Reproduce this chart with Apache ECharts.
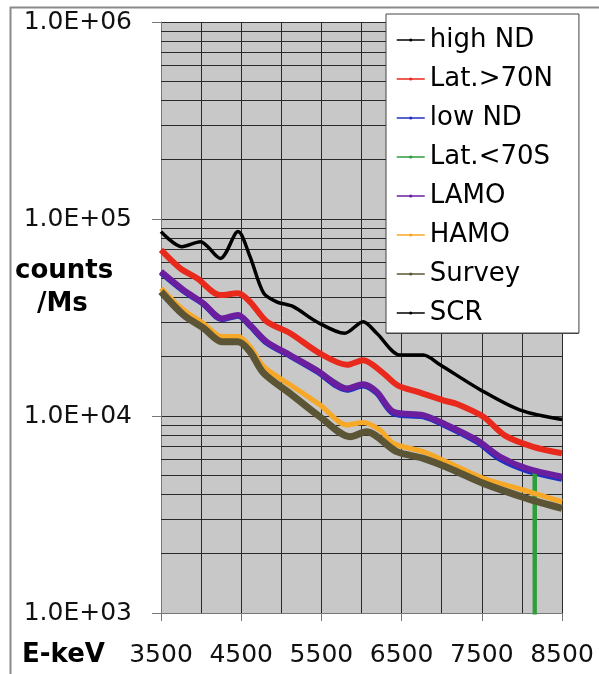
<!DOCTYPE html>
<html>
<head>
<meta charset="utf-8">
<title>counts / Ms vs E-keV</title>
<script src="https://cdn.jsdelivr.net/npm/echarts@6/dist/echarts.min.js"></script>
<style>
  html, body { margin: 0; padding: 0; background: #fff; }
  #chart { width: 599px; height: 674px; }
</style>
</head>
<body>
<div id="chart"></div>
<script>
// [E-keV, counts/Ms]
var highND = [[3500, 54000], [3780, 43500], [4030, 37100], [4260, 31100], [4460, 32400], [4610, 28800],
  [4820, 23600], [5110, 20300], [5440, 17000], [5820, 13700], [6020, 14400], [6190, 13200], [6400, 10400],
  [6770, 10000], [7020, 9100], [7440, 7500], [7730, 6150], [8060, 5450], [8500, 4900]]
var latN = [[3500, 69700], [3740, 56200], [3950, 50000], [4240, 41100], [4460, 42000], [4610, 38000],
  [4820, 30100], [5110, 26300], [5480, 20800], [5820, 18200], [6020, 19200], [6270, 16500], [6450, 14300],
  [6690, 13300], [7020, 12000], [7190, 11500], [7520, 9900], [7790, 7950], [8140, 6980], [8500, 6470]]
var lowND = [[3500, 53500], [3780, 43200], [4030, 37000], [4260, 31000], [4460, 32300], [4610, 28700],
  [4820, 23500], [5110, 20200], [5440, 16900], [5820, 13600], [6020, 14300], [6190, 13100], [6400, 10300],
  [6770, 9950], [7020, 9050], [7440, 7400], [7730, 6050], [8060, 5300], [8500, 4800]]
var latS = [[3500, 54100], [3780, 43700], [4030, 37300], [4260, 31300], [4460, 32600], [4610, 29000],
  [4820, 23800], [5110, 20400], [5440, 17100], [5820, 13800], [6020, 14500], [6190, 13300], [6400, 10500],
  [6770, 10100], [7020, 9180], [7440, 7550], [7730, 6200], [8060, 5400], [8150, 5250], [8160, 1],
  [8170, 5200], [8500, 4900]]
var lamo = [[3500, 54100], [3780, 43700], [4030, 37300], [4260, 31300], [4460, 32600], [4610, 29000],
  [4820, 23800], [5110, 20400], [5440, 17100], [5820, 13800], [6020, 14500], [6190, 13300], [6400, 10500],
  [6770, 10100], [7020, 9180], [7440, 7550], [7730, 6210], [8060, 5420], [8500, 4920]]
var hamo = [[3500, 44500], [3780, 34500], [4030, 29500], [4260, 25300], [4460, 25300], [4610, 22500],
  [4780, 17800], [5110, 14400], [5480, 11400], [5820, 9000], [6020, 9270], [6230, 8490], [6400, 7260],
  [6770, 6590], [7060, 5860], [7520, 4830], [8020, 4210], [8500, 3670]]
var survey = [[3500, 42800], [3780, 32600], [4030, 27900], [4260, 23800], [4460, 23800], [4610, 21200],
  [4780, 16500], [5110, 13000], [5480, 9910], [5860, 7850], [6060, 8320], [6440, 6590], [6770, 6100],
  [7100, 5420], [7520, 4550], [8060, 3820], [8500, 3400]]
var scr = [[3500, 86300], [3760, 72300], [3990, 76700], [4240, 63100], [4460, 86300], [4610, 64400],
  [4780, 42000], [4940, 38000], [5150, 35900], [5440, 30100], [5790, 26300], [6020, 30100], [6190, 26300],
  [6480, 20400], [6770, 20400], [6980, 18200], [7480, 13600], [7980, 10700], [8500, 9600]]

var names = ['high ND', 'Lat.>70N', 'low ND', 'Lat.<70S', 'LAMO', 'HAMO', 'Survey', 'SCR']
var minorGrid = [2000, 3000, 4000, 5000, 6000, 7000, 8000, 9000,
  20000, 30000, 40000, 50000, 60000, 70000, 80000, 90000,
  200000, 300000, 400000, 500000, 600000, 700000, 800000, 900000]

var chart = echarts.init(document.getElementById('chart'))

function line(name, data, color, width, symbol, smooth) {
  return {
    name: name,
    type: 'line',
    data: data,
    smooth: smooth === false ? false : 0.3,
    symbol: symbol,
    symbolSize: 4,
    showSymbol: false,
    clip: true,
    z: 3,
    itemStyle: { color: color },
    lineStyle: { color: color, width: width }
  }
}

var option = {
  animation: false,
  backgroundColor: '#fff',
  textStyle: { fontFamily: 'DejaVu Sans' },
  grid: {
    left: 161, top: 22, right: 37, bottom: 61,
    show: true, backgroundColor: '#c8c8c8', borderWidth: 0
  },
  legend: {
    data: names,
    orient: 'vertical',
    left: 386, top: 14,
    padding: [13, 26, 7, 10],
    itemWidth: 28, itemHeight: 4, itemGap: 13,
    backgroundColor: '#fff',
    borderColor: '#444', borderWidth: 1,
    lineStyle: { width: 1.5 },
    textStyle: { fontSize: 26, lineHeight: 26, color: '#000', fontFamily: 'DejaVu Sans' },
    zlevel: 1, z: 5
  },
  xAxis: {
    type: 'value',
    min: 3500, max: 8500, interval: 1000,
    axisLine: { show: true, onZero: false, lineStyle: { color: '#777', width: 1 } },
    axisTick: { show: true, length: 8, lineStyle: { color: '#777' } },
    axisLabel: {
      margin: 30, fontSize: 25, color: '#111', fontFamily: 'DejaVu Sans',
      formatter: function (v) { return String(v) }
    },
    splitLine: { show: true, lineStyle: { color: '#2a2a2a', width: 1 } },
    minorTick: { show: false, splitNumber: 2 },
    minorSplitLine: { show: true, lineStyle: { color: '#2a2a2a', width: 1 } }
  },
  yAxis: {
    type: 'log',
    logBase: 10,
    min: 1000, max: 1000000,
    axisLine: { show: true, lineStyle: { color: '#777', width: 1 } },
    axisTick: { show: true, length: 9, lineStyle: { color: '#777' } },
    axisLabel: {
      margin: 29, fontSize: 25, color: '#111', fontFamily: 'DejaVu Sans',
      formatter: function (v) { return '1.0E+0' + Math.round(Math.log10(v)) }
    },
    splitLine: { show: true, lineStyle: { color: '#2a2a2a', width: 1 } }
  },
  graphic: [
    { type: 'rect', left: 8, top: 5, shape: { width: 620, height: 700 }, silent: true, z: -10,
      style: { fill: 'none', stroke: '#8a8a8a', lineWidth: 2 } },
    // white panel behind the legend so the grid doesn't show through
    { type: 'rect', left: 386, top: 14, shape: { width: 192, height: 319 }, silent: true, zlevel: 1, z: 0,
      style: { fill: '#fff', stroke: '#444', lineWidth: 1 } },
    { type: 'text', left: 15, top: 258, style: { text: 'counts', font: 'bold 26px "DejaVu Sans"', fill: '#000' } },
    { type: 'text', left: 37, top: 291, style: { text: '/Ms', font: 'bold 26px "DejaVu Sans"', fill: '#000' } },
    { type: 'text', left: 22, top: 642, style: { text: 'E-keV', font: 'bold 26px "DejaVu Sans"', fill: '#000' } }
  ],
  series: [
    {
      name: 'grid', type: 'line', data: [], z: 1, silent: true,
      markLine: {
        silent: true, symbol: 'none', animation: false, z: 1,
        label: { show: false },
        lineStyle: { color: '#2a2a2a', width: 1, type: 'solid' },
        data: minorGrid.map(function (v) { return { yAxis: v } })
      }
    },
    line('high ND', highND, '#000', 2, 'circle'),
    line('Lat.>70N', latN, '#e8291c', 6, 'circle'),
    line('low ND', lowND, '#1f30c4', 6, 'circle'),
    line('Lat.<70S', latS, '#2e9e3a', 3, 'none', false),
    line('LAMO', lamo, '#6b1f9e', 6, 'circle'),
    line('HAMO', hamo, '#f8a827', 5, 'circle'),
    line('Survey', survey, '#5b5535', 7, 'circle'),
    line('SCR', scr, '#000', 3.5, 'none')
  ]
}
chart.setOption(option)
</script>
</body>
</html>
